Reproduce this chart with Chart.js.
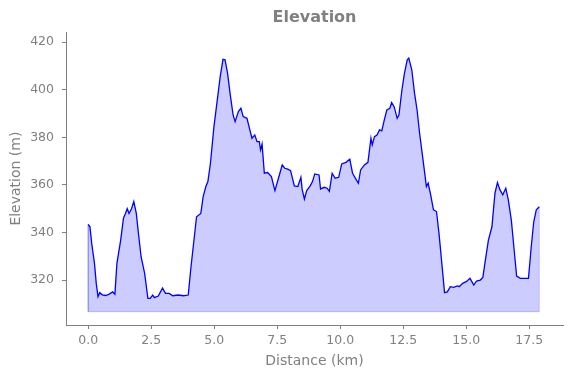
<!DOCTYPE html>
<html>
<head>
<meta charset="utf-8">
<script src="https://cdn.jsdelivr.net/npm/chart.js@4.4.0/dist/chart.umd.min.js"></script>
<style>
  html, body { margin: 0; padding: 0; background: #fff; }
</style>
</head>
<body>
<canvas id="canvas" width="571" height="378"></canvas>
<script>
var distance_km = [0, 0.07, 0.14, 0.25, 0.32, 0.39, 0.46, 0.56, 0.68, 0.82, 0.97, 1.06, 1.14, 1.29, 1.40,
    1.48, 1.55, 1.62, 1.72, 1.81, 1.91, 1.98, 2.10, 2.24, 2.37, 2.46, 2.56, 2.63, 2.78, 2.95,
    3.07, 3.21, 3.36, 3.57, 3.79, 3.97, 4.08, 4.30, 4.47, 4.56, 4.67, 4.75, 4.85, 4.99, 5.09,
    5.24, 5.35, 5.43, 5.53, 5.63, 5.75, 5.83, 5.96, 6.06, 6.15, 6.30, 6.40, 6.50, 6.61, 6.70,
    6.79, 6.84, 6.90, 6.99, 7.12, 7.27, 7.41, 7.55, 7.70, 7.80, 7.92, 8.03, 8.18, 8.32, 8.44,
    8.49, 8.58, 8.67, 8.81, 8.90, 8.99, 9.16, 9.22, 9.37, 9.48, 9.57, 9.68, 9.80, 9.94, 10.06,
    10.23, 10.38, 10.49, 10.64, 10.72, 10.81, 10.96, 11.10, 11.22, 11.27, 11.36, 11.46, 11.56, 11.65, 11.75,
    11.85, 11.97, 12.04, 12.14, 12.26, 12.33, 12.45, 12.55, 12.66, 12.72, 12.84, 12.95, 13.05, 13.15, 13.27,
    13.42, 13.49, 13.59, 13.70, 13.82, 13.92, 14.02, 14.14, 14.25, 14.37, 14.50, 14.65, 14.72, 14.86, 15.00,
    15.15, 15.30, 15.41, 15.56, 15.66, 15.76, 15.88, 16.02, 16.14, 16.24, 16.34, 16.45, 16.57, 16.67, 16.79,
    16.89, 17.00, 17.15, 17.32, 17.47, 17.58, 17.68, 17.78, 17.90];
var elevation_m = [343.4, 342.4, 335.4, 327, 318.6, 313, 314.7, 313.8, 313.5, 314, 315, 314, 327, 336.8, 346,
    348, 350, 348, 350, 353, 348, 341, 329.8, 322.8, 312.3, 312.3, 313.7, 312.6, 313.3, 316.6,
    314.4, 314.4, 313.4, 313.7, 313.4, 313.7, 325.6, 346.6, 348, 355, 359.3, 361.4, 369, 384.5, 392.9,
    405.6, 412.8, 412.6, 407, 398.5, 389.4, 386.6, 390.8, 392.2, 388.7, 388, 383.8, 379.6, 381, 378.2,
    378.2, 374.7, 377.2, 364.9, 365.2, 363.5, 357.6, 362.8, 368.4, 367, 366.6, 366, 359.6, 359.3, 363.2,
    358.1, 354, 357.6, 359.6, 361.4, 364.6, 364.2, 358.3, 359, 358.6, 357.3, 364.9, 362.8, 363.2, 368.8,
    369.5, 370.8, 364.9, 362.1, 360.7, 366.3, 368.4, 369.5, 379.6, 376.8, 380.3, 381, 383.1, 382.7, 387.3,
    391.5, 392.2, 394.6, 392.9, 388, 389.4, 400, 407, 412.6, 413.3, 408.4, 398.5, 391.5, 381.7, 371.9,
    359.3, 360.7, 355.8, 349.5, 348.8, 339.6, 328.4, 314.7, 315, 317.2, 316.9, 317.5, 317.2, 318.6, 319.3,
    320.7, 317.9, 319.6, 320, 321.1, 328.4, 336.8, 342.4, 356.5, 361, 357.9, 355.8, 358.6, 353.7, 345.2,
    334, 321.7, 320.7, 320.7, 320.7, 334, 344.5, 349.5, 350.8];
var base_elevation = 306.7;
var x_ticks = [0, 2.5, 5, 7.5, 10, 12.5, 15, 17.5];
var y_ticks = [320, 340, 360, 380, 400, 420];

var gris = '#808080';
var puntos = distance_km.map(function (d, i) { return { x: d, y: elevation_m[i] }; });
var n = distance_km.length - 1;
var borde = [
    { x: distance_km[0], y: elevation_m[0] },
    { x: distance_km[0], y: base_elevation },
    { x: distance_km[n], y: base_elevation },
    { x: distance_km[n], y: elevation_m[n] }
];

Chart.defaults.font.family = '"DejaVu Sans", sans-serif';
Chart.defaults.color = gris;

var ctx = document.getElementById('canvas').getContext('2d');
var myChart = new Chart(ctx, {
    type: 'line',
    data: {
        datasets: [{
            data: puntos,
            borderColor: '#0000ff',
            borderWidth: 1.3,
            backgroundColor: 'rgba(0, 0, 255, 0.2)',
            fill: { value: base_elevation },
            pointRadius: 0,
            tension: 0
        }, {
            data: borde,
            borderColor: 'rgba(0, 0, 255, 0.2)',
            borderWidth: 1,
            fill: false,
            pointRadius: 0,
            tension: 0
        }]
    },
    options: {
        responsive: false,
        animation: false,
        layout: { padding: { top: 8, left: 8, right: 8, bottom: 8 } },
        plugins: {
            legend: { display: false },
            tooltip: { enabled: false },
            title: {
                display: true,
                text: 'Elevation',
                fullSize: false,
                color: gris,
                font: { size: 16, weight: 'bold' },
                padding: { top: 0, bottom: 5 }
            }
        },
        scales: {
            x: {
                type: 'linear',
                min: -0.88,
                max: 18.84,
                afterFit: function (scale) { scale.height = 45; },
                afterBuildTicks: function (scale) {
                    scale.ticks = x_ticks.map(function (v) { return { value: v }; });
                },
                grid: { display: true, drawOnChartArea: false, color: gris, tickLength: 4 },
                border: { color: gris, width: 1 },
                ticks: {
                    color: gris,
                    font: { size: 12.5 },
                    padding: 4,
                    maxRotation: 0,
                    callback: function (v) { return v.toFixed(1); }
                },
                title: { display: true, text: 'Distance (km)', color: gris, font: { size: 14 }, padding: 0 }
            },
            y: {
                min: 301.1,
                max: 424.2,
                afterFit: function (scale) { scale.width = 58; },
                afterBuildTicks: function (scale) {
                    scale.ticks = y_ticks.map(function (v) { return { value: v }; });
                },
                grid: { display: true, drawOnChartArea: false, color: gris, tickLength: 4 },
                border: { color: gris, width: 1 },
                ticks: {
                    color: gris,
                    font: { size: 12.5 },
                    padding: 8
                },
                title: { display: true, text: 'Elevation (m)', color: gris, font: { size: 14 }, padding: 0 }
            }
        }
    }
});
</script>
</body>
</html>
